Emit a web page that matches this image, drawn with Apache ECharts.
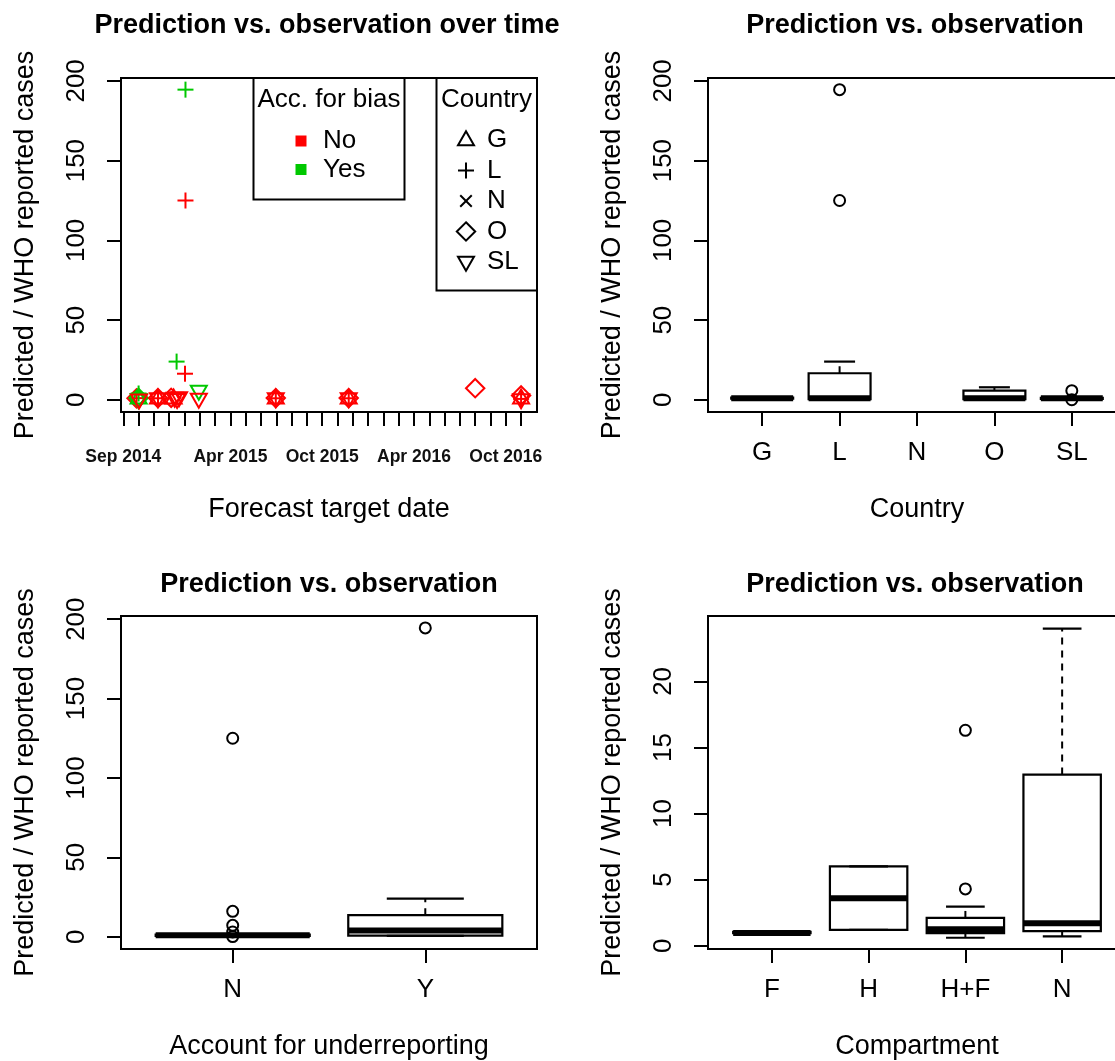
<!DOCTYPE html>
<html>
<head>
<meta charset="utf-8">
<title>Prediction vs. observation</title>
<script src="https://cdn.jsdelivr.net/npm/echarts@6/dist/echarts.min.js"></script>
<style>
html, body { margin: 0; padding: 0; background: #fff; }
#chart { width: 1115px; height: 1061px; }
</style>
</head>
<body>
<div id="chart"></div>
<script>
// ---- panel 1: individual forecasts over time ----
const fcDates = [
  '2014-09-27', '2014-09-27', '2014-10-01', '2014-10-01', '2014-10-01', '2014-10-01', '2014-10-02',
  '2014-11-09', '2014-11-09', '2014-11-09', '2014-11-09',
  '2014-12-05', '2014-12-10', '2014-12-12', '2014-12-17', '2014-12-21', '2014-12-16',
  '2015-01-02', '2015-01-03', '2015-01-03', '2015-01-30', '2015-01-30',
  '2015-06-30', '2015-06-30', '2015-06-30', '2015-06-30',
  '2015-11-23', '2015-11-23', '2015-11-23', '2015-11-23',
  '2016-08-01',
  '2016-11-01', '2016-11-01', '2016-11-01', '2016-11-01'
];
const fcRatio = [
  1.1, 1.0, 1.0, 4.0, 1.2, 0.2, 0.1,
  1.0, 1.0, 1.1, 0.9,
  1.3, 1.0, 1.2, 0.4, 1.6, 24.0,
  16.4, 125.0, 194.5, 5.6, 0.6,
  1.0, 1.0, 1.1, 0.9,
  1.0, 1.0, 1.1, 0.9,
  7.3,
  1.0, 0.6, 2.8, 0.2
];
const fcCountry = [
  'L', 'O', 'G', 'L', 'O', 'SL', 'SL',
  'G', 'L', 'O', 'SL',
  'O', 'G', 'SL', 'SL', 'SL', 'L',
  'L', 'L', 'L', 'SL', 'SL',
  'G', 'L', 'O', 'SL',
  'G', 'L', 'O', 'SL',
  'O',
  'G', 'L', 'O', 'SL'
];
const fcBias = [
  'No', 'No', 'Yes', 'Yes', 'Yes', 'Yes', 'No',
  'No', 'No', 'No', 'No',
  'No', 'No', 'No', 'No', 'No', 'Yes',
  'No', 'No', 'Yes', 'Yes', 'No',
  'No', 'No', 'No', 'No',
  'No', 'No', 'No', 'No',
  'No',
  'No', 'No', 'No', 'No'
];
const dateTickCount = 27;           // monthly ticks, Sep 2014 .. Nov 2016
const dateLabels = ['Sep 2014', 'Apr 2015', 'Oct 2015', 'Apr 2016', 'Oct 2016'];
const biasLevels = ['No', 'Yes'];
const countryLevels = ['G', 'L', 'N', 'O', 'SL'];

// ---- panel 2: by country  [lower whisker, q1, median, q3, upper whisker] ----
const countryCats = ['G', 'L', 'N', 'O', 'SL'];
const countryStats = [
  [0.5, 0.7, 1.0, 1.4, 1.6],
  [0.4, 0.5, 1.0, 16.7, 24.0],
  null,
  [0.3, 0.4, 1.0, 5.8, 7.9],
  [0.2, 0.6, 1.0, 1.3, 1.7]
];
const countryOutliers = [[], [125.0, 194.5], [], [], [5.8, 0.1]];

// ---- panel 3: by underreporting ----
const underCats = ['N', 'Y'];
const underStats = [
  [0.3, 0.6, 0.9, 1.3, 1.7],
  [0.6, 0.7, 4.0, 13.6, 24.0]
];
const underOutliers = [[125.0, 16.0, 7.2, 3.0, 0.1], [194.5]];

// ---- panel 4: by compartment ----
const compCats = ['F', 'H', 'H+F', 'N'];
const compStats = [
  [0.95, 0.95, 0.97, 1.05, 1.05],
  [1.2, 1.2, 3.6, 6.0, 6.0],
  [0.6, 0.95, 1.25, 2.1, 2.95],
  [0.7, 1.1, 1.7, 12.95, 24.0]
];
const compOutliers = [[], [], [4.3, 16.3], []];

const ratioTicks = [0, 50, 100, 150, 200];
const compTicks = [0, 5, 10, 15, 20];

const FONT = 'Liberation Sans, Arial, sans-serif';
const RED = '#ff0000', GREEN = '#00c800';
const biasColor = { No: RED, Yes: GREEN };

function monthIndex(s) {
  const [y, m, d] = s.split('-').map(Number);
  const dim = new Date(y, m, 0).getDate();
  return (y - 2014) * 12 + (m - 9) + (d - 1) / dim;
}
const monthNames = ['Jan', 'Feb', 'Mar', 'Apr', 'May', 'Jun', 'Jul', 'Aug', 'Sep', 'Oct', 'Nov', 'Dec'];
function labelIndex(lbl) {
  const [mn, yr] = lbl.split(' ');
  return (Number(yr) - 2014) * 12 + monthNames.indexOf(mn) - 8;
}

// R-like pch symbols, outline only
function marker(code, cx, cy, color) {
  const s = 8;
  const st = { fill: 'none', stroke: color, lineWidth: 2 };
  if (code === 'G') {
    return { type: 'polygon', shape: { points: [[cx, cy - s * 1.1], [cx - s, cy + s * 0.65], [cx + s, cy + s * 0.65]] }, style: st };
  }
  if (code === 'SL') {
    return { type: 'polygon', shape: { points: [[cx, cy + s * 1.1], [cx - s, cy - s * 0.65], [cx + s, cy - s * 0.65]] }, style: st };
  }
  if (code === 'O') {
    return { type: 'polygon', shape: { points: [[cx, cy - s * 1.15], [cx + s * 1.15, cy], [cx, cy + s * 1.15], [cx - s * 1.15, cy]] }, style: st };
  }
  if (code === 'L') {
    return { type: 'group', children: [
      { type: 'line', shape: { x1: cx - s, y1: cy, x2: cx + s, y2: cy }, style: st },
      { type: 'line', shape: { x1: cx, y1: cy - s, x2: cx, y2: cy + s }, style: st }
    ] };
  }
  const k = s * 0.72;
  return { type: 'group', children: [
    { type: 'line', shape: { x1: cx - k, y1: cy - k, x2: cx + k, y2: cy + k }, style: st },
    { type: 'line', shape: { x1: cx - k, y1: cy + k, x2: cx + k, y2: cy - k }, style: st }
  ] };
}

function boxRender(params, api) {
  const x = api.value(0);
  const pLo = api.coord([x, api.value(1)]);
  const pQ1 = api.coord([x, api.value(2)]);
  const pMd = api.coord([x, api.value(3)]);
  const pQ3 = api.coord([x, api.value(4)]);
  const pHi = api.coord([x, api.value(5)]);
  const half = api.size([0.8, 0])[0] / 2;
  const cx = pMd[0];
  const ink = { stroke: '#000', lineWidth: 2.2, fill: 'none' };
  const dash = { stroke: '#000', lineWidth: 2, lineDash: [7, 6], fill: 'none' };
  return { type: 'group', children: [
    { type: 'line', shape: { x1: cx, y1: pQ3[1], x2: cx, y2: pHi[1] }, style: dash },
    { type: 'line', shape: { x1: cx, y1: pQ1[1], x2: cx, y2: pLo[1] }, style: dash },
    { type: 'line', shape: { x1: cx - half / 2, y1: pHi[1], x2: cx + half / 2, y2: pHi[1] }, style: ink },
    { type: 'line', shape: { x1: cx - half / 2, y1: pLo[1], x2: cx + half / 2, y2: pLo[1] }, style: ink },
    { type: 'rect', shape: { x: cx - half, y: pQ3[1], width: 2 * half, height: pQ1[1] - pQ3[1] }, style: ink },
    { type: 'line', shape: { x1: cx - half, y1: pMd[1], x2: cx + half, y2: pMd[1] }, style: { stroke: '#000', lineWidth: 6 } }
  ] };
}

function outlierRender(params, api) {
  const p = api.coord([api.value(0), api.value(1)]);
  return { type: 'circle', shape: { cx: p[0], cy: p[1], r: 5.5 }, style: { fill: 'none', stroke: '#000', lineWidth: 2 } };
}

function boxData(stats) {
  const out = [];
  stats.forEach(function (s, i) { if (s) out.push([i + 1].concat(s)); });
  return out;
}
function outlierData(lists) {
  const out = [];
  lists.forEach(function (vals, i) { vals.forEach(function (v) { out.push([i + 1, v]); }); });
  return out;
}

const tickStyle = { color: '#000', width: 2 };
function yAxisFor(gridIndex, min, max, ticks) {
  return {
    type: 'value', gridIndex: gridIndex, min: min, max: max,
    axisLine: { show: false, onZero: false },
    splitLine: { show: false },
    axisTick: { show: true, length: 14, lineStyle: tickStyle, customValues: ticks },
    axisLabel: { customValues: ticks, rotate: 90, margin: 31, fontSize: 26, color: '#000', fontFamily: FONT },
    name: 'Predicted / WHO reported cases', nameLocation: 'middle', nameGap: 82, nameMoveOverlap: false,
    nameTextStyle: { fontSize: 27, color: '#000', fontFamily: FONT }
  };
}
function catAxisFor(gridIndex, cats, pad, name) {
  const idx = cats.map(function (c, i) { return i + 1; });
  return {
    type: 'value', gridIndex: gridIndex, min: 0.5 - pad, max: cats.length + 0.5 + pad,
    axisLine: { show: false, onZero: false },
    splitLine: { show: false },
    axisTick: { show: true, length: 14, lineStyle: tickStyle, customValues: idx },
    axisLabel: { customValues: idx, margin: 28, fontSize: 26, color: '#000', fontFamily: FONT,
      formatter: function (v) { return cats[Math.round(v) - 1]; } },
    name: name, nameLocation: 'middle', nameGap: 84, nameMoveOverlap: false,
    nameTextStyle: { fontSize: 27, color: '#000', fontFamily: FONT }
  };
}

const monthTicks = [];
for (let i = 0; i < dateTickCount; i++) monthTicks.push(i);
const monthLabelPos = dateLabels.map(labelIndex);

const gridBase = { show: true, borderColor: '#000', borderWidth: 2, backgroundColor: 'transparent', outerBoundsMode: 'none', containLabel: false };

function titleText(x, y, text) {
  return { type: 'text', x: x, y: y, style: { text: text, fill: '#000', font: 'bold 27px ' + FONT,
    textAlign: 'center', textVerticalAlign: 'middle', align: 'center', verticalAlign: 'middle' } };
}
function legendText(x, y, text, align) {
  return { type: 'text', x: x, y: y, style: { text: text, fill: '#000', font: '26px ' + FONT,
    textAlign: align, textVerticalAlign: 'middle', align: align, verticalAlign: 'middle' } };
}

const legendEls = [
  { type: 'rect', shape: { x: 253.5, y: 78, width: 151, height: 121.5 }, style: { fill: '#fff', stroke: '#000', lineWidth: 2 } },
  legendText(329, 100, 'Acc. for bias', 'center'),
  { type: 'rect', shape: { x: 301 - 5.5, y: 141 - 5.5, width: 11, height: 11 }, style: { fill: biasColor[biasLevels[0]] } },
  legendText(323, 141, biasLevels[0], 'left'),
  { type: 'rect', shape: { x: 301 - 5.5, y: 169.5 - 5.5, width: 11, height: 11 }, style: { fill: biasColor[biasLevels[1]] } },
  legendText(323, 169.5, biasLevels[1], 'left'),
  { type: 'rect', shape: { x: 436.5, y: 78, width: 100.5, height: 212.5 }, style: { fill: '#fff', stroke: '#000', lineWidth: 2 } },
  legendText(486.5, 100, 'Country', 'center')
];
countryLevels.forEach(function (c, i) {
  const y = 140 + i * 30.5;
  legendEls.push(marker(c, 466, y, '#000'));
  legendEls.push(legendText(487, y, c, 'left'));
});

const option = {
  backgroundColor: '#fff',
  animation: false,
  textStyle: { fontFamily: FONT },
  grid: [
    Object.assign({ left: 121, top: 78, width: 416, height: 334 }, gridBase),
    Object.assign({ left: 708, top: 78, width: 418, height: 334 }, gridBase),
    Object.assign({ left: 121, top: 616, width: 416, height: 333 }, gridBase),
    Object.assign({ left: 708, top: 616, width: 418, height: 333 }, gridBase)
  ],
  xAxis: [
    {
      type: 'value', gridIndex: 0, min: -0.15, max: 27.04,
      axisLine: { show: false, onZero: false },
      splitLine: { show: false },
      axisTick: { show: true, length: 14, lineStyle: tickStyle, customValues: monthTicks },
      axisLabel: { customValues: monthLabelPos, margin: 36, fontSize: 17.5, fontWeight: 'bold', color: '#111', fontFamily: FONT,
        formatter: function (v) { return dateLabels[monthLabelPos.indexOf(Math.round(v))] || ''; } },
      name: 'Forecast target date', nameLocation: 'middle', nameGap: 84, nameMoveOverlap: false,
      nameTextStyle: { fontSize: 27, color: '#000', fontFamily: FONT }
    },
    catAxisFor(1, countryCats, 0.2, 'Country'),
    catAxisFor(2, underCats, 0.08, 'Account for underreporting'),
    catAxisFor(3, compCats, 0.16, 'Compartment')
  ],
  yAxis: [
    yAxisFor(0, -7.6, 201.8, ratioTicks),
    yAxisFor(1, -7.6, 201.8, ratioTicks),
    yAxisFor(2, -7.7, 202, ratioTicks),
    yAxisFor(3, -0.25, 24.95, compTicks)
  ],
  series: [
    {
      type: 'custom', name: 'forecasts', xAxisIndex: 0, yAxisIndex: 0,
      data: fcDates.map(function (d, i) { return [monthIndex(d), fcRatio[i]]; }),
      renderItem: function (params, api) {
        const p = api.coord([api.value(0), api.value(1)]);
        const i = params.dataIndex;
        return marker(fcCountry[i], p[0], p[1], biasColor[fcBias[i]]);
      }
    },
    { type: 'custom', xAxisIndex: 1, yAxisIndex: 1, data: boxData(countryStats), renderItem: boxRender },
    { type: 'custom', xAxisIndex: 1, yAxisIndex: 1, data: outlierData(countryOutliers), renderItem: outlierRender },
    { type: 'custom', xAxisIndex: 2, yAxisIndex: 2, data: boxData(underStats), renderItem: boxRender },
    { type: 'custom', xAxisIndex: 2, yAxisIndex: 2, data: outlierData(underOutliers), renderItem: outlierRender },
    { type: 'custom', xAxisIndex: 3, yAxisIndex: 3, data: boxData(compStats), renderItem: boxRender },
    { type: 'custom', xAxisIndex: 3, yAxisIndex: 3, data: outlierData(compOutliers), renderItem: outlierRender }
  ],
  graphic: [
    titleText(327, 26, 'Prediction vs. observation over time'),
    titleText(915, 26, 'Prediction vs. observation'),
    titleText(329, 585, 'Prediction vs. observation'),
    titleText(915, 585, 'Prediction vs. observation')
  ].concat(legendEls)
};

const chart = echarts.init(document.getElementById('chart'), null, { renderer: 'canvas' });
chart.setOption(option);
</script>
</body>
</html>
